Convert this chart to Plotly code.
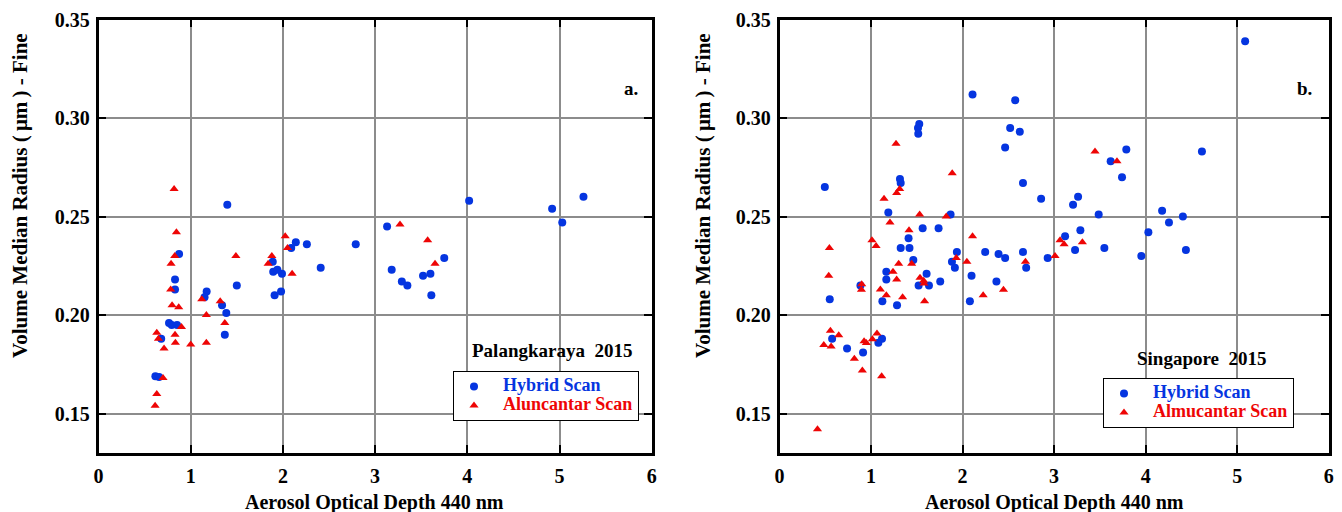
import plotly.graph_objects as go

# ---------------- data ----------------
# Panel a: Palangkaraya 2015
pal_hybrid_x = [1.397, 0.874, 0.83, 0.83, 1.173, 1.15, 1.50, 1.34, 1.386, 1.37, 0.765, 0.794, 0.852,
                0.68, 0.617, 0.657, 1.89, 1.895, 1.94, 1.99, 1.91, 1.98, 2.09, 2.14, 2.26, 2.79, 2.41,
                3.13, 3.18, 3.29, 3.35, 3.52, 3.60, 3.61, 3.75, 4.02, 4.92, 5.03, 5.26]
pal_hybrid_y = [0.256, 0.231, 0.218, 0.213, 0.212, 0.209, 0.215, 0.205, 0.201, 0.190, 0.196, 0.195, 0.195,
                0.188, 0.169, 0.1686, 0.227, 0.222, 0.223, 0.221, 0.210, 0.212, 0.234, 0.237, 0.236, 0.236, 0.224,
                0.245, 0.223, 0.217, 0.215, 0.220, 0.221, 0.210, 0.229, 0.258, 0.254, 0.247, 0.260]

pal_almu_x = [0.82, 0.845, 0.827, 0.787, 0.783, 0.798, 0.87, 0.90, 0.632, 0.65, 0.83, 0.834, 0.711,
              1.0, 1.17, 1.12, 1.32, 1.17, 1.37, 1.49, 0.70, 0.632, 0.614, 1.88, 1.84, 2.025, 2.05,
              2.10, 3.27, 3.57, 3.65]
pal_almu_y = [0.264, 0.242, 0.230, 0.226, 0.213, 0.205, 0.204, 0.194, 0.191, 0.188, 0.190, 0.186, 0.183,
              0.185, 0.186, 0.208, 0.207, 0.200, 0.196, 0.230, 0.168, 0.160, 0.154, 0.230, 0.226, 0.240, 0.234,
              0.221, 0.246, 0.238, 0.226]

# Panel b: Singapore 2015
sin_hybrid_x = [2.109, 2.575, 1.527, 1.513, 1.516, 2.52, 2.625, 2.465, 0.495, 1.316, 1.324, 2.66, 2.858,
                1.189, 1.869, 1.564, 1.738, 1.41, 1.324, 1.42, 1.462, 1.938, 1.884, 1.916, 2.247, 2.393,
                2.465, 2.66, 2.695, 2.93, 1.167, 1.167, 1.607, 1.52, 1.633, 1.756, 2.098, 2.37, 0.884,
                1.124, 1.284, 2.08, 0.549, 0.575, 0.738, 0.913, 1.08, 1.12,
                5.087, 3.789, 3.618, 3.742, 4.615, 3.262, 3.207, 3.487, 4.18, 4.255, 4.407, 4.03, 3.287,
                3.12, 3.229, 3.549, 3.953, 4.44]
sin_hybrid_y = [0.312, 0.309, 0.297, 0.295, 0.292, 0.295, 0.293, 0.285, 0.265, 0.269, 0.267, 0.267, 0.259,
                0.252, 0.251, 0.244, 0.244, 0.239, 0.234, 0.234, 0.228, 0.232, 0.227, 0.224, 0.232, 0.231,
                0.229, 0.232, 0.224, 0.229, 0.222, 0.218, 0.221, 0.215, 0.215, 0.217, 0.220, 0.217, 0.215,
                0.207, 0.205, 0.207, 0.208, 0.188, 0.183, 0.181, 0.186, 0.188,
                0.339, 0.284, 0.278, 0.270, 0.283, 0.260, 0.256, 0.251, 0.253, 0.247, 0.250, 0.242, 0.243,
                0.240, 0.233, 0.234, 0.230, 0.233]

sin_almu_x = [1.273, 1.887, 1.313, 1.28, 1.142, 1.531, 1.822, 1.207, 1.415, 1.01, 1.055, 0.545, 2.109,
              0.538, 1.302, 1.444, 1.24, 1.28, 1.931, 2.047, 2.687, 1.535, 1.575, 1.578, 1.102, 1.167,
              1.345, 1.585, 0.898, 0.895, 2.225, 2.447, 3.01, 0.556, 0.647, 0.484, 0.564, 0.818, 0.905,
              0.924, 0.949, 1.015, 1.065, 1.116, 0.415,
              3.447, 3.687, 3.065, 3.109, 3.309]
sin_almu_y = [0.287, 0.272, 0.264, 0.262, 0.259, 0.251, 0.250, 0.247, 0.243, 0.238, 0.235, 0.234, 0.240,
              0.220, 0.226, 0.226, 0.222, 0.218, 0.229, 0.227, 0.227, 0.219, 0.2174, 0.216, 0.213, 0.210,
              0.209, 0.207, 0.2157, 0.2128, 0.210, 0.2128, 0.230, 0.192, 0.1897, 0.1848, 0.184, 0.1778, 0.1719,
              0.1867, 0.1858, 0.1877, 0.1907, 0.169, 0.142,
              0.283, 0.278, 0.238, 0.236, 0.237]

x_ticks = [0, 1, 2, 3, 4, 5, 6]
y_ticks = [0.15, 0.20, 0.25, 0.30, 0.35]
y_tick_text = ["0.15", "0.20", "0.25", "0.30", "0.35"]

# ---------------- style ----------------
BLUE = "#0535e0"
RED = "#ee0505"
FONT = "Liberation Serif, Times New Roman, serif"
# page has an 8px body margin: figure is drawn 8px in from the window corner
OFF = 8
W, H = 1342 - OFF, 512 - OFF


def px(x):
    return (x - OFF) / W


def py(y):
    return 1 - (y - OFF) / H


def legend_name(text, color):
    return "<span style='color:%s;font-size:18px'>\u2002%s</span>" % (color, text)


fig = go.Figure()

fig.add_trace(go.Scatter(x=pal_hybrid_x, y=pal_hybrid_y, mode="markers", xaxis="x", yaxis="y",
                         marker=dict(symbol="circle", size=8, color=BLUE),
                         name=legend_name("Hybrid Scan", BLUE), legend="legend"))
fig.add_trace(go.Scatter(x=pal_almu_x, y=pal_almu_y, mode="markers", xaxis="x", yaxis="y",
                         marker=dict(symbol="triangle-up", size=8, color=RED),
                         name=legend_name("Aluncantar Scan", RED), legend="legend"))
fig.add_trace(go.Scatter(x=sin_hybrid_x, y=sin_hybrid_y, mode="markers", xaxis="x2", yaxis="y2",
                         marker=dict(symbol="circle", size=8, color=BLUE),
                         name=legend_name("Hybrid Scan", BLUE), legend="legend2"))
fig.add_trace(go.Scatter(x=sin_almu_x, y=sin_almu_y, mode="markers", xaxis="x2", yaxis="y2",
                         marker=dict(symbol="triangle-up", size=8, color=RED),
                         name=legend_name("Almucantar Scan", RED), legend="legend2"))

tickfont = dict(family=FONT, size=20, color="black", weight="bold")
common_x = dict(range=[0, 6], tickvals=x_ticks, ticktext=[str(v) for v in x_ticks],
                showgrid=True, gridcolor="#8c8c8c", gridwidth=2,
                showline=True, linecolor="black", linewidth=2.5, mirror="allticks",
                ticks="inside", ticklen=8, tickwidth=2, tickcolor="black",
                zeroline=False, tickfont=tickfont, automargin=False, ticklabelstandoff=3)
common_y = dict(range=[0.13, 0.35], tickvals=y_ticks, ticktext=y_tick_text,
                showgrid=True, gridcolor="#8c8c8c", gridwidth=2,
                showline=True, linecolor="black", linewidth=2.5, mirror="allticks",
                ticks="inside", ticklen=8, tickwidth=2, tickcolor="black",
                zeroline=False, tickfont=tickfont, automargin=False, ticklabelstandoff=2)

yd = [py(453), py(19.5)]
legend_style = dict(xanchor="left", yanchor="top", bordercolor="black", borderwidth=1, bgcolor="white",
                    font=dict(family=FONT, size=12, weight="bold"), tracegroupgap=0)
fig.update_layout(
    width=W, height=H, template="none",
    paper_bgcolor="white", plot_bgcolor="white",
    margin=dict(l=0, r=0, t=0, b=0),
    xaxis=dict(domain=[px(98.5), px(651.7)], anchor="y", **common_x),
    yaxis=dict(domain=yd, anchor="x", **common_y),
    xaxis2=dict(domain=[px(779.5), px(1328.7)], anchor="y2", **common_x),
    yaxis2=dict(domain=yd, anchor="x2", **common_y),
    legend=dict(x=px(453), y=py(371), **legend_style),
    legend2=dict(x=px(1103), y=py(378), **legend_style),
    showlegend=True,
)

ytitle = "Volume Median Radius (\u2009\u03bcm\u2009) - Fine"
ann_font = dict(family=FONT, size=20, color="black", weight="bold")
annotations = [
    dict(text="Aerosol Optical Depth 440 nm", x=px(374), y=py(502)),
    dict(text="Aerosol Optical Depth 440 nm", x=px(1054), y=py(502)),
    dict(text=ytitle, x=px(20), y=py(196), textangle=-90, size=21),
    dict(text=ytitle, x=px(703), y=py(196), textangle=-90, size=21),
    dict(text="Palangkaraya\u00a0 2015", x=px(552), y=py(350), size=19),
    dict(text="Singapore\u00a0 2015", x=px(1202), y=py(358), size=19),
    dict(text="a.", x=px(631), y=py(88), size=19),
    dict(text="b.", x=px(1304), y=py(89), size=19),
]
for a in annotations:
    f = dict(ann_font)
    if "size" in a:
        f["size"] = a.pop("size")
    fig.add_annotation(xref="paper", yref="paper", xanchor="center", yanchor="middle",
                       showarrow=False, font=f, **a)

fig.write_html("out.html")
